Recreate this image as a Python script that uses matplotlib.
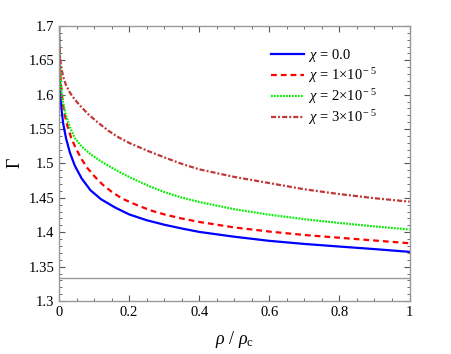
import matplotlib
matplotlib.use("Agg")
import matplotlib.pyplot as plt
from matplotlib.ticker import MultipleLocator, FuncFormatter

plt.rcParams["font.family"] = ["Liberation Serif", "DejaVu Serif"]
plt.rcParams["mathtext.fontset"] = "custom"
plt.rcParams["mathtext.rm"] = "Liberation Serif"
plt.rcParams["mathtext.it"] = "Liberation Serif:italic"

# ---------- данные ----------
x_chi0 = [0.0, 0.0005, 0.001, 0.002, 0.004, 0.007, 0.012, 0.02, 0.031, 0.045,
          0.065, 0.09, 0.12, 0.16, 0.2, 0.25, 0.3, 0.35, 0.4, 0.5,
          0.6, 0.7, 0.8, 0.9, 1.0]
g_chi0 = [1.700, 1.655, 1.642, 1.625, 1.603, 1.580, 1.558, 1.537, 1.516, 1.497,
          1.478, 1.461, 1.448, 1.436, 1.426, 1.4175, 1.411, 1.4055, 1.4005, 1.3935,
          1.3875, 1.383, 1.3792, 1.3755, 1.3715]

x_chi1 = [0.0, 0.001, 0.002, 0.004, 0.007, 0.012, 0.017, 0.025, 0.035, 0.05,
          0.065, 0.08, 0.1, 0.125, 0.15, 0.18, 0.22, 0.26, 0.3, 0.35,
          0.4, 0.5, 0.6, 0.7, 0.8, 0.9, 1.0]
g_chi1 = [1.700, 1.665, 1.650, 1.628, 1.605, 1.584, 1.569, 1.553, 1.537, 1.520,
          1.506, 1.494, 1.482, 1.469, 1.459, 1.449, 1.440, 1.432, 1.426, 1.420,
          1.415, 1.407, 1.401, 1.396, 1.392, 1.388, 1.384]

x_chi2 = [0.0, 0.001, 0.003, 0.0057, 0.01, 0.018, 0.031, 0.045, 0.065, 0.09,
          0.12, 0.15, 0.18, 0.22, 0.26, 0.3, 0.35, 0.4, 0.5, 0.6,
          0.7, 0.8, 0.9, 1.0]
g_chi2 = [1.700, 1.668, 1.632, 1.612, 1.593, 1.573, 1.553, 1.537, 1.5245, 1.5135,
          1.503, 1.494, 1.4855, 1.4755, 1.4665, 1.4585, 1.4505, 1.444, 1.4335, 1.4255,
          1.419, 1.4135, 1.4085, 1.404]

x_chi3 = [0.0, 0.001, 0.003, 0.006, 0.012, 0.02, 0.03, 0.045, 0.064, 0.085,
          0.11, 0.14, 0.17, 0.2, 0.25, 0.3, 0.35, 0.4, 0.5, 0.6,
          0.7, 0.8, 0.9, 1.0]
g_chi3 = [1.700, 1.672, 1.655, 1.641, 1.626, 1.614, 1.604, 1.593, 1.582, 1.571,
          1.560, 1.548, 1.538, 1.530, 1.519, 1.509, 1.4995, 1.4915, 1.4805, 1.4715,
          1.4625, 1.4555, 1.4495, 1.4445]

gamma_ref = 4 / 3
labels = [r"$\chi$ = 0.0",
          r"$\chi$ = 1$\times$10$^{\rm -5}$",
          r"$\chi$ = 2$\times$10$^{\rm -5}$",
          r"$\chi$ = 3$\times$10$^{\rm -5}$"]

fig = plt.figure(figsize=(4.52, 3.54), dpi=100)
ax = fig.add_axes([0.1305, 0.1497, 0.7755, 0.7769])

ax.axhline(gamma_ref, color="#9a9a9a", lw=1.0, zorder=1)
ax.plot(x_chi0, g_chi0, color="#0000ff", lw=1.6, label=labels[0])
ax.plot(x_chi1, g_chi1, color="#ff0000", lw=1.6, dashes=(2.6, 1.8), label=labels[1])
ax.plot(x_chi2, g_chi2, color="#00f000", lw=1.6, dashes=(0.8, 0.55), label=labels[2])
ax.plot(x_chi3, g_chi3, color="#c03838", lw=1.6, dashes=(2.3, 0.9, 0.9, 0.9),
        label=labels[3])

ax.set_xlim(0, 1)
ax.set_ylim(1.3, 1.7)
ax.xaxis.set_major_locator(MultipleLocator(0.2))
ax.xaxis.set_minor_locator(MultipleLocator(0.05))
ax.yaxis.set_major_locator(MultipleLocator(0.05))
ax.yaxis.set_minor_locator(MultipleLocator(0.01))
fmt = FuncFormatter(lambda v, p: ("%g" % round(v, 3)))
ax.xaxis.set_major_formatter(fmt)
ax.yaxis.set_major_formatter(fmt)
ax.tick_params(which="both", direction="in", top=True, right=True,
               color="#555555", labelsize=10.5)
ax.tick_params(which="major", length=4.5, width=0.8)
ax.tick_params(which="minor", length=2.5, width=0.6)
for s in ax.spines.values():
    s.set_color("#999999")
    s.set_linewidth(1.0)

ax.set_xlabel(r"$\rho$ / $\rho_{\rm c}$", fontsize=13, labelpad=7)
ax.set_ylabel(r"$\Gamma$", fontsize=13, labelpad=3)

ax.legend(loc="upper left", bbox_to_anchor=(0.606, 0.925), frameon=False,
          fontsize=10.5, handlelength=2.25, handletextpad=0.25,
          labelspacing=0.15, borderpad=0, borderaxespad=0)

fig.savefig("out.png", dpi=100)
